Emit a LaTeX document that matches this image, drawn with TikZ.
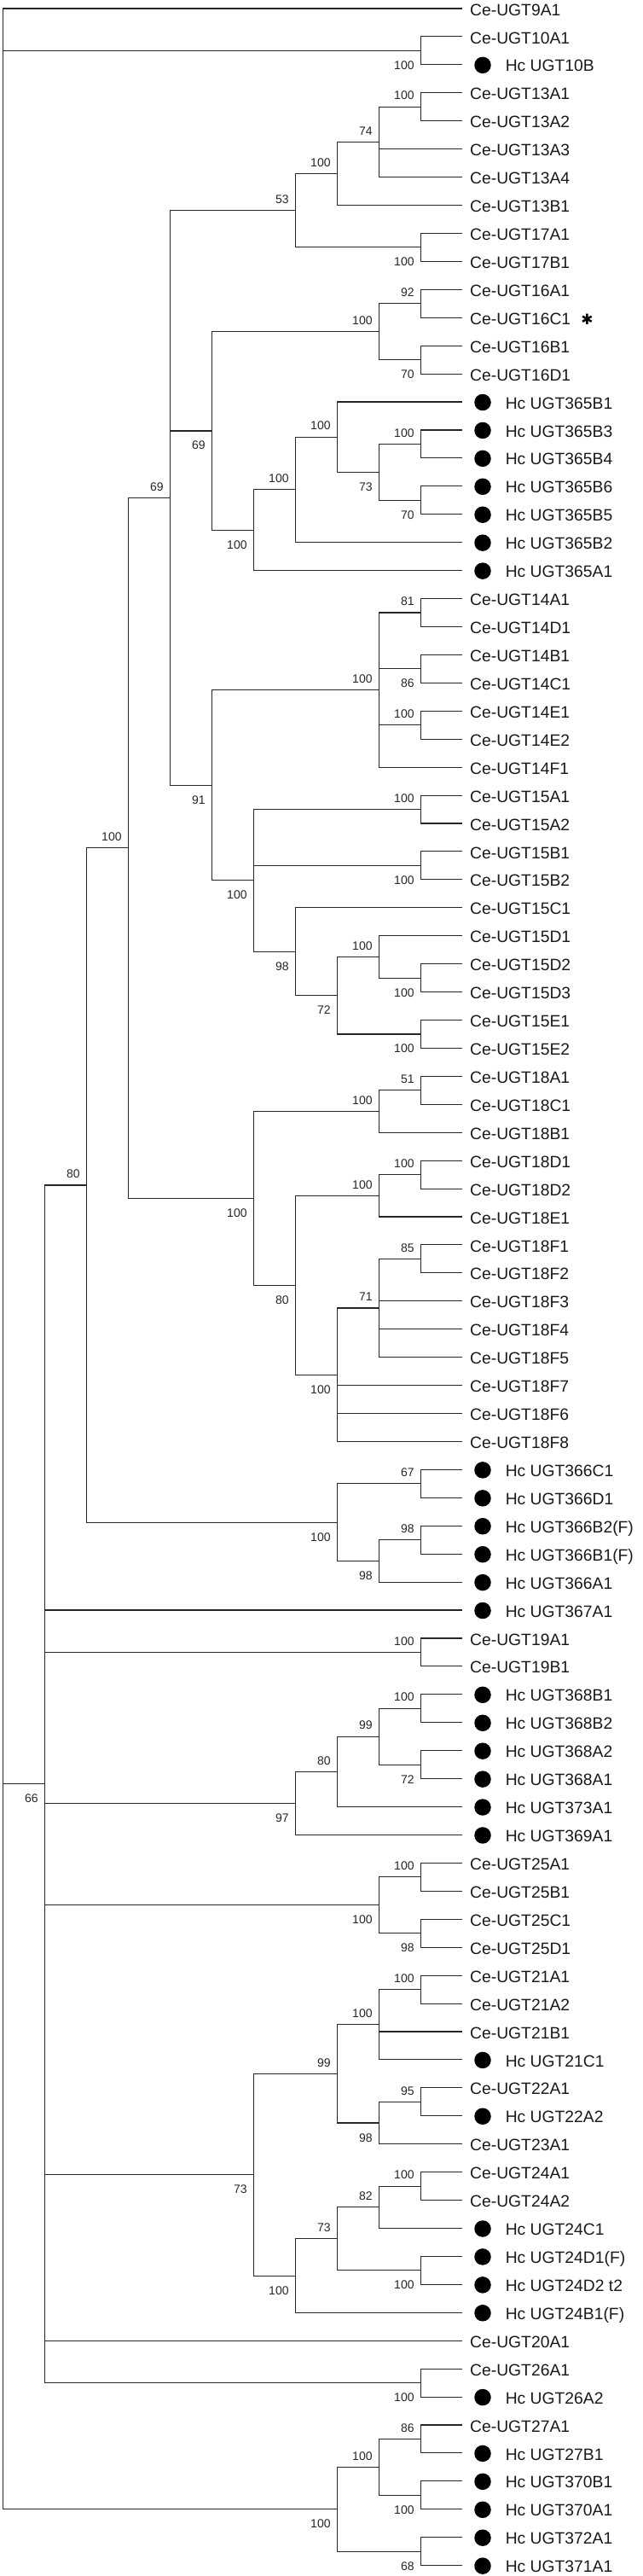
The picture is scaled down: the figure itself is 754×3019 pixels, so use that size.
\documentclass[tikz,border=0pt]{standalone}
\usepackage{fontspec}
\setmainfont{Liberation Sans}
\newfontfamily\djv{DejaVu Sans}
\usetikzlibrary{calc}
\newcommand\mknode[4]{%
  \path let \p1=($(#3)!0.5!(#4)$) in coordinate (#1) at ({3.8pt+49pt*#2},\y1);
  \draw[br] (#1 |- #3) -- (#1 |- #4);
  \draw[br] (#1 |- #3) -- (#3);
  \draw[br] (#1 |- #4) -- (#4);
}
\newcommand\midc[2]{\draw[br] (#1 |- #2) -- (#2);}
\newcommand\bsA[2]{\node[bsl] (ba#1) at ($(#1)+(-8,13.3)$) {#2};}
\newcommand\bsB[2]{\node[bsl] (bb#1) at ($(#1)+(-8,-17)$) {#2};}
\begin{document}
\begin{tikzpicture}[x=1pt,y=1pt,
  br/.style={line width=1.1pt, draw=black!85, line cap=rect},
  leaflab/.style={anchor=west, inner sep=0pt, text height=13.8pt, text depth=0pt, font=\fontsize{19.3}{21}\selectfont, text=black!90},
  bsl/.style={anchor=east, inner sep=0pt, text height=10pt, text depth=0pt, font=\fontsize{14}{15}\selectfont, text=black!85},
  hcdot/.style={circle, fill=black, inner sep=0pt, minimum size=19.5pt}]
\useasboundingbox (0,0) rectangle (754,-3019);
\foreach \i in {1,...,92}{\coordinate (l\i) at (541.6,{-(10+(\i-1)*32.93)});}
% leaf labels
\foreach \i/\t in {1/Ce-UGT9A1, 2/Ce-UGT10A1, 4/Ce-UGT13A1, 5/Ce-UGT13A2, 6/Ce-UGT13A3, 7/Ce-UGT13A4, 8/Ce-UGT13B1, 9/Ce-UGT17A1, 10/Ce-UGT17B1, 11/Ce-UGT16A1, 12/Ce-UGT16C1, 13/Ce-UGT16B1, 14/Ce-UGT16D1, 22/Ce-UGT14A1, 23/Ce-UGT14D1, 24/Ce-UGT14B1, 25/Ce-UGT14C1, 26/Ce-UGT14E1, 27/Ce-UGT14E2, 28/Ce-UGT14F1, 29/Ce-UGT15A1, 30/Ce-UGT15A2, 31/Ce-UGT15B1, 32/Ce-UGT15B2, 33/Ce-UGT15C1, 34/Ce-UGT15D1, 35/Ce-UGT15D2, 36/Ce-UGT15D3, 37/Ce-UGT15E1, 38/Ce-UGT15E2, 39/Ce-UGT18A1, 40/Ce-UGT18C1, 41/Ce-UGT18B1, 42/Ce-UGT18D1, 43/Ce-UGT18D2, 44/Ce-UGT18E1, 45/Ce-UGT18F1, 46/Ce-UGT18F2, 47/Ce-UGT18F3, 48/Ce-UGT18F4, 49/Ce-UGT18F5, 50/Ce-UGT18F7, 51/Ce-UGT18F6, 52/Ce-UGT18F8, 59/Ce-UGT19A1, 60/Ce-UGT19B1, 67/Ce-UGT25A1, 68/Ce-UGT25B1, 69/Ce-UGT25C1, 70/Ce-UGT25D1, 71/Ce-UGT21A1, 72/Ce-UGT21A2, 73/Ce-UGT21B1, 75/Ce-UGT22A1, 77/Ce-UGT23A1, 78/Ce-UGT24A1, 79/Ce-UGT24A2, 84/Ce-UGT20A1, 85/Ce-UGT26A1, 87/Ce-UGT27A1}
  {\node[leaflab] (t\i) at ($(l\i)+(9.4,-1.2)$) {\t};}
\foreach \i/\t in {3/UGT10B, 15/UGT365B1, 16/UGT365B3, 17/UGT365B4, 18/UGT365B6, 19/UGT365B5, 20/UGT365B2, 21/UGT365A1, 53/UGT366C1, 54/UGT366D1, 55/{UGT366B2(F)}, 56/{UGT366B1(F)}, 57/UGT366A1, 58/UGT367A1, 61/UGT368B1, 62/UGT368B2, 63/UGT368A2, 64/UGT368A1, 65/UGT373A1, 66/UGT369A1, 74/UGT21C1, 76/UGT22A2, 80/UGT24C1, 81/{UGT24D1(F)}, 82/{UGT24D2 t2}, 83/{UGT24B1(F)}, 86/UGT26A2, 88/UGT27B1, 89/UGT370B1, 90/UGT370A1, 91/UGT372A1, 92/UGT371A1}
  {\node[hcdot] (d\i) at ($(l\i)+(24.4,-0.5)$) {};
   \node[leaflab] (t\i) at ($(l\i)+(51,-1.2)$) {Hc \t};}
\node[inner sep=0pt, font=\djv\fontsize{17}{17}\selectfont, text=black] (star) at ($(t12.east)+(19,-1)$) {✱};
% ---- clades ----
\mknode{a10}{10}{l2}{l3} \bsB{a10}{100}
\mknode{b45}{10}{l4}{l5} \bsA{b45}{100}
\mknode{b74}{9}{b45}{l7} \midc{b74}{l6} \bsA{b74}{74}
\mknode{bn}{8}{b74}{l8} \bsA{bn}{100}
\mknode{b910}{10}{l9}{l10} \bsB{b910}{100}
\mknode{b53}{7}{bn}{b910} \bsA{b53}{53}
\mknode{c92}{10}{l11}{l12} \bsA{c92}{92}
\mknode{c70}{10}{l13}{l14} \bsB{c70}{70}
\mknode{cc}{9}{c92}{c70} \bsA{cc}{100}
\mknode{d1617}{10}{l16}{l17} \bsA{d1617}{100}
\mknode{d70}{10}{l18}{l19} \bsB{d70}{70}
\mknode{d73}{9}{d1617}{d70} \bsB{d73}{73}
\mknode{dr}{8}{l15}{d73} \bsA{dr}{100}
\mknode{dq}{7}{dr}{l20} \bsA{dq}{100}
\mknode{dp}{6}{dq}{l21} \bsB{dp}{100}
\mknode{e69}{5}{cc}{dp} \bsB{e69}{69}
\mknode{f81}{10}{l22}{l23} \bsA{f81}{81}
\mknode{f86}{10}{l24}{l25} \bsB{f86}{86}
\mknode{fv}{10}{l26}{l27} \bsA{fv}{100}
\mknode{ft}{9}{f81}{l28} \midc{ft}{f86} \midc{ft}{fv} \bsA{ft}{100}
\mknode{gw}{10}{l29}{l30} \bsA{gw}{100}
\mknode{gx}{10}{l31}{l32} \bsB{gx}{100}
\mknode{gaa}{10}{l35}{l36} \bsB{gaa}{100}
\mknode{gy}{9}{l34}{gaa} \bsA{gy}{100}
\mknode{gz}{10}{l37}{l38} \bsB{gz}{100}
\mknode{g72}{8}{gy}{gz} \bsB{g72}{72}
\mknode{g98}{7}{l33}{g72} \bsB{g98}{98}
\mknode{gu}{6}{gw}{g98} \midc{gu}{gx} \bsB{gu}{100}
\mknode{e91}{5}{ft}{gu} \bsB{e91}{91}
\mknode{h69}{4}{b53}{e91} \midc{h69}{e69} \bsA{h69}{69}
\mknode{i51}{10}{l39}{l40} \bsA{i51}{51}
\mknode{ij}{9}{i51}{l41} \bsA{ij}{100}
\mknode{im}{10}{l42}{l43} \bsA{im}{100}
\mknode{ik}{9}{im}{l44} \bsA{ik}{100}
\mknode{i85}{10}{l45}{l46} \bsA{i85}{85}
\mknode{i71}{9}{i85}{l49} \midc{i71}{l47} \midc{i71}{l48} \bsA{i71}{71}
\mknode{il}{8}{i71}{l52} \midc{il}{l50} \midc{il}{l51} \bsB{il}{100}
\mknode{i80}{7}{ik}{il} \bsB{i80}{80}
\mknode{ii}{6}{ij}{i80} \bsB{ii}{100}
\mknode{jg}{3}{h69}{ii} \bsA{jg}{100}
\mknode{k67}{10}{l53}{l54} \bsA{k67}{67}
\mknode{k98c}{10}{l55}{l56} \bsA{k98c}{98}
\mknode{k98b}{9}{k98c}{l57} \bsB{k98b}{98}
\mknode{kh}{8}{k67}{k98b} \bsB{kh}{100}
\mknode{m80}{2}{jg}{kh} \bsA{m80}{80}
\mknode{n19}{10}{l59}{l60} \bsA{n19}{100}
\mknode{n6162}{10}{l61}{l62} \bsA{n6162}{100}
\mknode{n72}{10}{l63}{l64} \bsB{n72}{72}
\mknode{n99}{9}{n6162}{n72} \bsA{n99}{99}
\mknode{n80}{8}{n99}{l65} \bsA{n80}{80}
\mknode{n97}{7}{n80}{l66} \bsB{n97}{97}
\mknode{p6768}{10}{l67}{l68} \bsA{p6768}{100}
\mknode{p98}{10}{l69}{l70} \bsB{p98}{98}
\mknode{pp}{9}{p6768}{p98} \bsB{pp}{100}
\mknode{q7172}{10}{l71}{l72} \bsA{q7172}{100}
\mknode{qd}{9}{q7172}{l74} \midc{qd}{l73} \bsA{qd}{100}
\mknode{q95}{10}{l75}{l76} \bsA{q95}{95}
\mknode{q98}{9}{q95}{l77} \bsB{q98}{98}
\mknode{q99}{8}{qd}{q98} \bsA{q99}{99}
\mknode{r7879}{10}{l78}{l79} \bsA{r7879}{100}
\mknode{r82}{9}{r7879}{l80} \bsA{r82}{82}
\mknode{r8182}{10}{l81}{l82} \bsB{r8182}{100}
\mknode{r73}{8}{r82}{r8182} \bsA{r73}{73}
\mknode{rc}{7}{r73}{l83} \bsB{rc}{100}
\mknode{q73}{6}{q99}{rc} \bsB{q73}{73}
\mknode{s26}{10}{l85}{l86} \bsB{s26}{100}
\mknode{t66}{1}{m80}{s26} \midc{t66}{l58} \midc{t66}{n19} \midc{t66}{n97} \midc{t66}{pp} \midc{t66}{q73} \midc{t66}{l84} \bsB{t66}{66}
\mknode{u86}{10}{l87}{l88} \bsA{u86}{86}
\mknode{uf}{10}{l89}{l90} \bsB{uf}{100}
\mknode{ue}{9}{u86}{uf} \bsA{ue}{100}
\mknode{u68}{10}{l91}{l92} \bsB{u68}{68}
\mknode{uu}{8}{ue}{u68} \bsB{uu}{100}
% root
\coordinate (root) at (3.8,0);
\draw[br] (root |- l1) -- (root |- uu);
\draw[br] (root |- l1) -- (l1);
\draw[br] (root |- a10) -- (a10);
\draw[br] (root |- t66) -- (t66);
\draw[br] (root |- uu) -- (uu);
\end{tikzpicture}
\end{document}
